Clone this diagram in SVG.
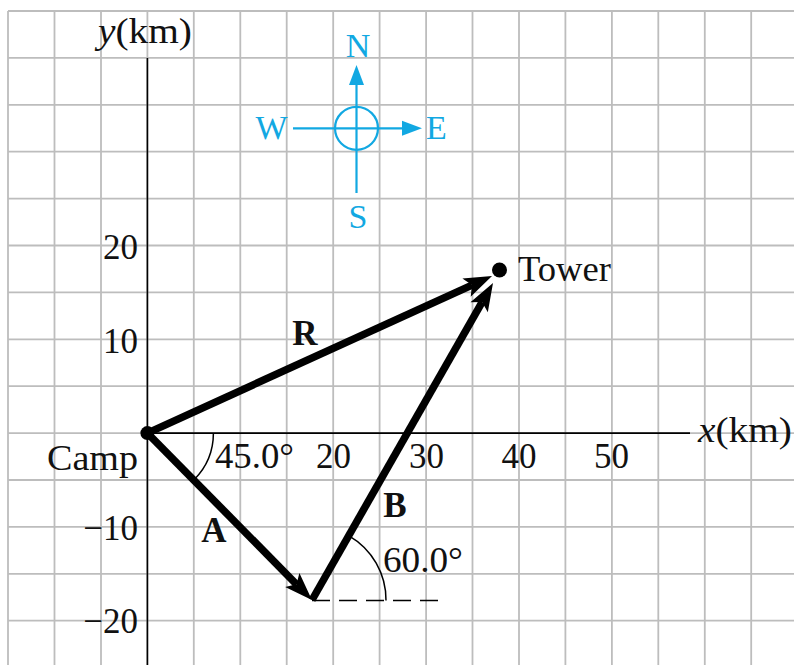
<svg xmlns="http://www.w3.org/2000/svg" width="794" height="665" viewBox="0 0 794 665">
<defs>
<style>
.grid line{stroke:#bdbdbd;stroke-width:1.8}
.axis{stroke:#000;stroke-width:1.6;fill:none}
.vec{stroke:#000;stroke-width:7.5;fill:none;stroke-linecap:butt}
.thin{stroke:#000;stroke-width:1.5;fill:none}
.t{font-family:"Liberation Serif","Times New Roman",serif;font-size:35px;fill:#111}
.b{font-weight:bold}
.i{font-style:italic}
.cmp{stroke:#12a8e2;stroke-width:2.2;fill:none}
.ct{font-family:"Liberation Serif","Times New Roman",serif;font-size:34px;fill:#12a8e2}
</style>
<marker id="head" markerUnits="userSpaceOnUse" markerWidth="40" markerHeight="30" refX="0" refY="0" orient="auto" overflow="visible">
<path d="M0,0 L-6,-10 L22,0 L-6,10 Z" fill="#000"/>
</marker>
<marker id="chead" markerUnits="userSpaceOnUse" markerWidth="30" markerHeight="20" refX="0" refY="0" orient="auto" overflow="visible">
<path d="M-2,-7.5 L18,0 L-2,7.5 Z" fill="#12a8e2"/>
</marker>
</defs>
<rect x="0" y="0" width="794" height="665" fill="#fff"/>
<g id="grid" class="grid">
<line x1="8" y1="11" x2="8" y2="665"/>
<line x1="54.5" y1="11" x2="54.5" y2="665"/>
<line x1="101" y1="11" x2="101" y2="665"/>
<line x1="147.4" y1="11" x2="147.4" y2="665"/>
<line x1="193.8" y1="11" x2="193.8" y2="665"/>
<line x1="240.3" y1="11" x2="240.3" y2="665"/>
<line x1="286.7" y1="11" x2="286.7" y2="665"/>
<line x1="333.2" y1="11" x2="333.2" y2="665"/>
<line x1="379.6" y1="11" x2="379.6" y2="665"/>
<line x1="426.1" y1="11" x2="426.1" y2="665"/>
<line x1="472.5" y1="11" x2="472.5" y2="665"/>
<line x1="519" y1="11" x2="519" y2="665"/>
<line x1="565.4" y1="11" x2="565.4" y2="665"/>
<line x1="611.9" y1="11" x2="611.9" y2="665"/>
<line x1="658.3" y1="11" x2="658.3" y2="665"/>
<line x1="704.8" y1="11" x2="704.8" y2="665"/>
<line x1="751.2" y1="11" x2="751.2" y2="665"/>
<line x1="8" y1="11" x2="794" y2="11"/>
<line x1="8" y1="57.9" x2="794" y2="57.9"/>
<line x1="8" y1="104.8" x2="794" y2="104.8"/>
<line x1="8" y1="151.7" x2="794" y2="151.7"/>
<line x1="8" y1="198.6" x2="794" y2="198.6"/>
<line x1="8" y1="245.5" x2="794" y2="245.5"/>
<line x1="8" y1="292.4" x2="794" y2="292.4"/>
<line x1="8" y1="339.3" x2="794" y2="339.3"/>
<line x1="8" y1="386.2" x2="794" y2="386.2"/>
<line x1="8" y1="433.1" x2="794" y2="433.1"/>
<line x1="8" y1="480" x2="794" y2="480"/>
<line x1="8" y1="526.9" x2="794" y2="526.9"/>
<line x1="8" y1="573.8" x2="794" y2="573.8"/>
<line x1="8" y1="620.7" x2="794" y2="620.7"/>
</g>
<g id="axes">
<line class="axis" x1="147.4" y1="57.9" x2="147.4" y2="665"/>
<line class="axis" x1="147.4" y1="433.1" x2="690" y2="433.1"/>
<text class="t" x="98" y="43" textLength="94" lengthAdjust="spacingAndGlyphs"><tspan class="i">y</tspan>(km)</text>
<text class="t" x="698" y="442" textLength="94" lengthAdjust="spacingAndGlyphs"><tspan class="i">x</tspan>(km)</text>
<text class="t" x="333.5" y="468" text-anchor="middle">20</text>
<text class="t" x="426.5" y="468" text-anchor="middle">30</text>
<text class="t" x="519" y="468" text-anchor="middle">40</text>
<text class="t" x="611.5" y="468" text-anchor="middle">50</text>
<text class="t" x="138" y="259" text-anchor="end">20</text>
<text class="t" x="138" y="353" text-anchor="end">10</text>
<text class="t" x="138" y="540" text-anchor="end">−10</text>
<text class="t" x="138" y="633" text-anchor="end">−20</text>
</g>
<g id="compass">
<circle class="cmp" cx="356.5" cy="128.3" r="21.5"/>
<line class="cmp" x1="356.5" y1="193" x2="356.5" y2="83" marker-end="url(#chead)"/>
<line class="cmp" x1="293" y1="128.3" x2="404" y2="128.3" marker-end="url(#chead)"/>
<text class="ct" x="358" y="57" text-anchor="middle">N</text>
<text class="ct" x="358" y="228" text-anchor="middle">S</text>
<text class="ct" x="271.5" y="139" text-anchor="middle">W</text>
<text class="ct" x="436.5" y="139" text-anchor="middle">E</text>
</g>
<g id="connectors">
<line id="vecA" class="vec" x1="147.4" y1="433.1" x2="296.5" y2="584.3" marker-end="url(#head)"/>
<line id="vecB" class="vec" x1="312" y1="600" x2="482.1" y2="302.1" marker-end="url(#head)"/>
<line id="vecR" class="vec" x1="147.4" y1="433.1" x2="472" y2="285.1" marker-end="url(#head)"/>
<path class="thin" d="M213.4,433.1 A66,66 0 0 1 194.1,479.8"/>
<path class="thin" d="M386,600.5 A74,74 0 0 0 349,535.9"/>
<line class="thin" x1="312" y1="600.5" x2="438" y2="600.5" stroke-dasharray="18 9" stroke-width="1.8"/>
</g>
<g id="camp">
<circle cx="147.4" cy="433.1" r="7" fill="#000"/>
<text class="t" x="47" y="470" textLength="91" lengthAdjust="spacingAndGlyphs">Camp</text>
</g>
<g id="tower">
<circle cx="499.5" cy="270" r="7.5" fill="#000"/>
<text class="t" x="518" y="281" textLength="93" lengthAdjust="spacingAndGlyphs">Tower</text>
</g>
<g id="labels">
<text class="t b" x="305" y="345" text-anchor="middle">R</text>
<text class="t b" x="214" y="542" text-anchor="middle">A</text>
<text class="t b" x="395" y="517" text-anchor="middle">B</text>
<text class="t" x="215" y="468" textLength="79" lengthAdjust="spacingAndGlyphs">45.0°</text>
<text class="t" x="383" y="572" textLength="80" lengthAdjust="spacingAndGlyphs">60.0°</text>
</g>
</svg>
